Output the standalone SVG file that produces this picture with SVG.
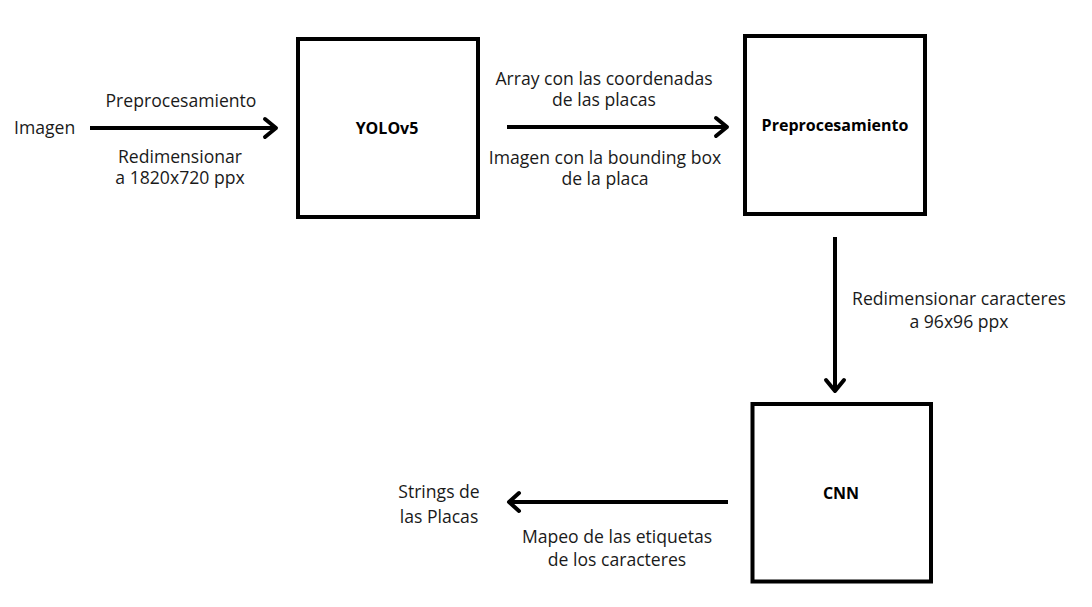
<svg xmlns="http://www.w3.org/2000/svg" width="1092" height="607" viewBox="0 0 1092 607">
<style>
.box{fill:#fff;stroke:#000;stroke-width:4}
.t{font-family:"Open Sans","Liberation Sans",sans-serif;font-size:17.6px;fill:#1a1a1a}
.b{font-family:"Open Sans","Liberation Sans",sans-serif;font-size:16px;font-weight:bold;fill:#000;text-anchor:middle}
.c{text-anchor:middle}
.ln{stroke:#000;stroke-width:4;fill:none}
.hd{stroke:#000;stroke-width:4;fill:none;stroke-linecap:round;stroke-linejoin:round}
</style>
<rect width="1092" height="607" fill="#fff"/>
<g id="connectors">
<g id="c1"><line class="ln" x1="90" y1="128" x2="275" y2="128"/><polyline class="hd" points="265,119 276,128 265,137"/></g>
<g id="c2"><line class="ln" x1="507" y1="127" x2="726" y2="127"/><polyline class="hd" points="716,118 727,127 716,136"/></g>
<g id="c3"><line class="ln" x1="835" y1="237" x2="835" y2="390"/><polyline class="hd" points="826,380 835,391 844,380"/></g>
<g id="c4"><line class="ln" x1="728" y1="502" x2="510" y2="502"/><polyline class="hd" points="519,493 509,502 519,511"/></g>
</g>
<g id="labels">
<text class="t" x="14" y="134">Imagen</text>
<text class="t c" x="181" y="107">Preprocesamiento</text>
<text class="t c" x="180" y="163">Redimensionar</text>
<text class="t c" x="180" y="184">a 1820x720 ppx</text>
<text class="t c" x="604" y="85">Array con las coordenadas</text>
<text class="t c" x="604" y="106">de las placas</text>
<text class="t c" x="605" y="164">Imagen con la bounding box</text>
<text class="t c" x="605" y="185">de la placa</text>
<text class="t c" x="959" y="305">Redimensionar caracteres</text>
<text class="t c" x="959" y="328">a 96x96 ppx</text>
<text class="t c" x="439" y="498">Strings de</text>
<text class="t c" x="439" y="523">las Placas</text>
<text class="t c" x="617" y="543">Mapeo de las etiquetas</text>
<text class="t c" x="617" y="566">de los caracteres</text>
</g>
<g id="yolo"><rect class="box" x="298" y="39" width="180" height="178"/><text class="b" x="387" y="134">YOLOv5</text></g>
<g id="prep"><rect class="box" x="745" y="36" width="180" height="178"/><text class="b" x="835" y="131">Preprocesamiento</text></g>
<g id="cnn"><rect class="box" x="752.5" y="404" width="178.5" height="177.5"/><text class="b" x="841" y="499">CNN</text></g>
</svg>
